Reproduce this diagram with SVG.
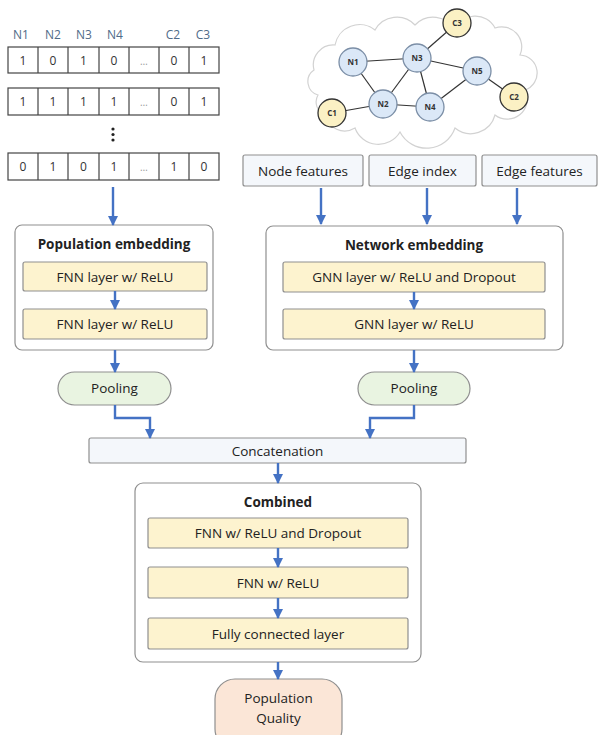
<svg xmlns="http://www.w3.org/2000/svg" width="599" height="735" viewBox="0 0 599 735">
  <defs>
    <marker id="ah" viewBox="0 0 10 10" refX="9" refY="5" markerWidth="4.2" markerHeight="4.2" markerUnits="strokeWidth" orient="auto">
      <path d="M0,0 L10,5 L0,10 Z" fill="#4472c4"/>
    </marker>
    <style>
      text { font-family: "Open Sans", "Liberation Sans", sans-serif; fill: #222; }
      .t { font-size: 13.5px; text-anchor: middle; }
      .b { font-size: 13.5px; font-weight: bold; text-anchor: middle; }
      .lay { fill: #fdf3cf; stroke: #8f8f8f; stroke-width: 1.2; }
      .inp { fill: #f4f7fb; stroke: #8f8f8f; stroke-width: 1.2; }
      .grp { fill: #ffffff; stroke: #8f8f8f; stroke-width: 1.2; }
      .pool { fill: #e9f4e1; stroke: #8f8f8f; stroke-width: 1.2; }
      .out { fill: #fbe6d7; stroke: #8f8f8f; stroke-width: 1.2; }
      .cell { fill: #ffffff; stroke: #444; stroke-width: 1.2; }
      .dig { font-size: 12px; text-anchor: middle; fill: #333; }
      .dots { font-size: 10px; text-anchor: middle; fill: #999; }
      .hdr { font-size: 12px; text-anchor: middle; fill: #4f6b88; }
      .arr { fill: none; stroke: #4472c4; stroke-width: 2.4; marker-end: url(#ah); }
      .edge { stroke: #333; stroke-width: 1.2; }
      .nn { fill: #dbe8f7; stroke: #7b8ea6; stroke-width: 1.3; }
      .cn { fill: #fbf1c4; stroke: #333; stroke-width: 1.3; }
      .nl { font-size: 8px; font-weight: bold; text-anchor: middle; fill: #333; }
    </style>
  </defs>

  <!-- population matrix -->
  <g id="matrix">
    <text class="hdr" x="21" y="39">N1</text>
    <text class="hdr" x="53" y="39">N2</text>
    <text class="hdr" x="84" y="39">N3</text>
    <text class="hdr" x="115" y="39">N4</text>
    <text class="hdr" x="173" y="39">C2</text>
    <text class="hdr" x="203" y="39">C3</text>
    <g id="row1">
      <rect class="cell" x="8" y="47" width="211" height="26"/>
      <path d="M38,47V73M68,47V73M99,47V73M129,47V73M159,47V73M189,47V73" stroke="#444" stroke-width="1.2"/>
      <text class="dig" x="23" y="64.5">1</text><text class="dig" x="53" y="64.5">0</text>
      <text class="dig" x="83.5" y="64.5">1</text><text class="dig" x="114" y="64.5">0</text>
      <text class="dots" x="144" y="64.5">…</text>
      <text class="dig" x="174" y="64.5">0</text><text class="dig" x="204" y="64.5">1</text>
    </g>
    <g id="row2">
      <rect class="cell" x="8" y="88" width="211" height="27"/>
      <path d="M38,88V115M68,88V115M99,88V115M129,88V115M159,88V115M189,88V115" stroke="#444" stroke-width="1.2"/>
      <text class="dig" x="23" y="106">1</text><text class="dig" x="53" y="106">1</text>
      <text class="dig" x="83.5" y="106">1</text><text class="dig" x="114" y="106">1</text>
      <text class="dots" x="144" y="106">…</text>
      <text class="dig" x="174" y="106">0</text><text class="dig" x="204" y="106">1</text>
    </g>
    <g id="vdots" fill="#222">
      <circle cx="113" cy="129" r="1.6"/><circle cx="113" cy="134.5" r="1.6"/><circle cx="113" cy="140" r="1.6"/>
    </g>
    <g id="row3">
      <rect class="cell" x="8" y="153" width="211" height="27"/>
      <path d="M38,153V180M68,153V180M99,153V180M129,153V180M159,153V180M189,153V180" stroke="#444" stroke-width="1.2"/>
      <text class="dig" x="23" y="171">0</text><text class="dig" x="53" y="171">1</text>
      <text class="dig" x="83.5" y="171">0</text><text class="dig" x="114" y="171">1</text>
      <text class="dots" x="144" y="171">…</text>
      <text class="dig" x="174" y="171">1</text><text class="dig" x="204" y="171">0</text>
    </g>
  </g>

  <!-- example network -->
  <g id="network">
    <path d="M318,95 A14,14 0 0 1 314,70 A20,20 0 0 1 335,45 A25,25 0 0 1 375,30 A25,25 0 0 1 415,25 A25,25 0 0 1 455,30 A22,22 0 0 1 495,28 A20,20 0 0 1 520,55 A18,18 0 0 1 525,90 A20,20 0 0 1 495,115 A25,25 0 0 1 455,128 A30,30 0 0 1 400,132 A25,25 0 0 1 355,128 A20,20 0 0 1 325,115 A14,14 0 0 1 318,95 Z" fill="#ffffff" stroke="#d2d2d2" stroke-width="1.2"/>
    <g id="net-edges">
      <line class="edge" x1="353" y1="62" x2="417" y2="58"/>
      <line class="edge" x1="353" y1="62" x2="383" y2="104"/>
      <line class="edge" x1="383" y1="104" x2="417" y2="58"/>
      <line class="edge" x1="383" y1="104" x2="430" y2="107"/>
      <line class="edge" x1="417" y1="58" x2="430" y2="107"/>
      <line class="edge" x1="417" y1="58" x2="477" y2="71"/>
      <line class="edge" x1="430" y1="107" x2="477" y2="71"/>
      <line class="edge" x1="417" y1="58" x2="457" y2="23"/>
      <line class="edge" x1="477" y1="71" x2="514" y2="97"/>
      <line class="edge" x1="383" y1="104" x2="332" y2="113"/>
    </g>
    <g id="n1"><circle class="nn" cx="353" cy="62" r="14"/><text class="nl" x="353" y="65">N1</text></g>
    <g id="n2"><circle class="nn" cx="383" cy="104" r="14"/><text class="nl" x="383" y="107">N2</text></g>
    <g id="n3"><circle class="nn" cx="417" cy="58" r="14"/><text class="nl" x="417" y="61">N3</text></g>
    <g id="n4"><circle class="nn" cx="430" cy="107" r="14"/><text class="nl" x="430" y="110">N4</text></g>
    <g id="n5"><circle class="nn" cx="477" cy="71" r="14"/><text class="nl" x="477" y="74">N5</text></g>
    <g id="c1"><circle class="cn" cx="332" cy="113" r="14"/><text class="nl" x="332" y="116">C1</text></g>
    <g id="c2"><circle class="cn" cx="514" cy="97" r="14"/><text class="nl" x="514" y="100">C2</text></g>
    <g id="c3"><circle class="cn" cx="457" cy="23" r="14"/><text class="nl" x="457" y="26">C3</text></g>
  </g>

  <!-- graph inputs -->
  <g id="node-features"><rect class="inp" x="243" y="155" width="120" height="31" rx="2"/><text class="t" x="303" y="175.5">Node features</text></g>
  <g id="edge-index"><rect class="inp" x="369" y="155" width="107" height="31" rx="2"/><text class="t" x="422.5" y="175.5">Edge index</text></g>
  <g id="edge-features"><rect class="inp" x="482" y="155" width="115" height="31" rx="2"/><text class="t" x="539.5" y="175.5">Edge features</text></g>

  <!-- population embedding -->
  <g id="population-embedding">
    <rect class="grp" x="15" y="225" width="198" height="125" rx="7"/>
    <text class="b" x="114" y="249">Population embedding</text>
  </g>
  <g id="fnn1"><rect class="lay" x="23" y="262" width="184" height="29" rx="2"/><text class="t" x="115" y="281.5">FNN layer w/ ReLU</text></g>
  <g id="fnn2"><rect class="lay" x="23" y="309" width="184" height="30" rx="2"/><text class="t" x="115" y="329">FNN layer w/ ReLU</text></g>

  <!-- network embedding -->
  <g id="network-embedding">
    <rect class="grp" x="266" y="226" width="297" height="124" rx="7"/>
    <text class="b" x="414" y="250">Network embedding</text>
  </g>
  <g id="gnn1"><rect class="lay" x="283" y="262" width="262" height="30" rx="2"/><text class="t" x="414" y="282">GNN layer w/ ReLU and Dropout</text></g>
  <g id="gnn2"><rect class="lay" x="283" y="309" width="262" height="30" rx="2"/><text class="t" x="414" y="329">GNN layer w/ ReLU</text></g>

  <!-- pooling -->
  <g id="pool-left"><rect class="pool" x="58" y="372" width="113" height="33" rx="16.5"/><text class="t" x="114.5" y="393">Pooling</text></g>
  <g id="pool-right"><rect class="pool" x="358" y="372" width="112" height="33" rx="16.5"/><text class="t" x="414" y="393">Pooling</text></g>

  <!-- concatenation -->
  <g id="concatenation"><rect class="inp" x="89" y="438" width="377" height="25" rx="2"/><text class="t" x="277.5" y="455.5">Concatenation</text></g>

  <!-- combined head -->
  <g id="combined">
    <rect class="grp" x="135" y="483" width="286" height="179" rx="8"/>
    <text class="b" x="278" y="507">Combined</text>
  </g>
  <g id="fnn3"><rect class="lay" x="148" y="518" width="260" height="30" rx="2"/><text class="t" x="278" y="538">FNN w/ ReLU and Dropout</text></g>
  <g id="fnn4"><rect class="lay" x="148" y="567" width="260" height="31" rx="2"/><text class="t" x="278" y="587.5">FNN w/ ReLU</text></g>
  <g id="fc"><rect class="lay" x="148" y="618" width="260" height="31" rx="2"/><text class="t" x="278" y="638.5">Fully connected layer</text></g>

  <!-- output -->
  <g id="quality">
    <rect class="out" x="215" y="679" width="127" height="70" rx="20"/>
    <text class="t" x="278.5" y="703">Population</text>
    <text class="t" x="278.5" y="723">Quality</text>
  </g>

  <!-- connectors -->
  <g id="connectors">
    <path class="arr" d="M113,187V225"/>
    <path class="arr" d="M321,188V224"/>
    <path class="arr" d="M427,188V224"/>
    <path class="arr" d="M517,188V224"/>
    <path class="arr" d="M115,291V309"/>
    <path class="arr" d="M414,292V309"/>
    <path class="arr" d="M115,350V372"/>
    <path class="arr" d="M414,350V372"/>
    <path class="arr" d="M115,405V418H150V438"/>
    <path class="arr" d="M414,405V418H370V438"/>
    <path class="arr" d="M278,463V483"/>
    <path class="arr" d="M278,548V567"/>
    <path class="arr" d="M278,598V618"/>
    <path class="arr" d="M278,662V679"/>
  </g>
</svg>
